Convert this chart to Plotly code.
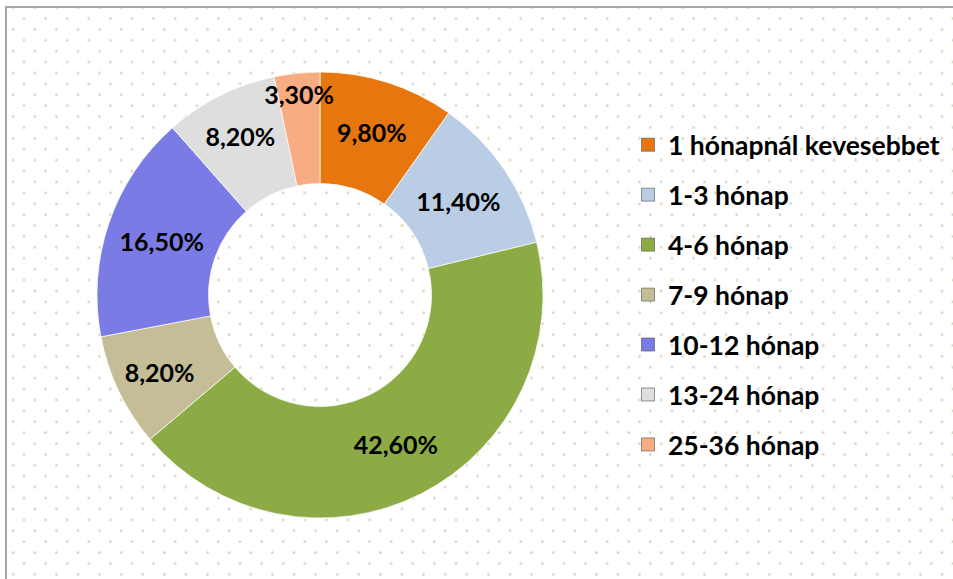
import plotly.graph_objects as go
import urllib.parse

# ---- data ----
categories = ["1 hónapnál kevesebbet", "1-3 hónap", "4-6 hónap", "7-9 hónap",
              "10-12 hónap", "13-24 hónap", "25-36 hónap"]
values = [9.8, 11.4, 42.6, 8.2, 16.5, 8.2, 3.3]
colors = ["#E8760E", "#B9CDE5", "#8CAB44", "#C4BD97", "#7B7BE6", "#DEDEDE", "#F7AC82"]

W, H = 953, 579
FONT = "Lato"

fig = go.Figure()

# legend entries (dummy markers, one group each so spacing can be set)
for cat, col in zip(categories, colors):
    fig.add_trace(go.Scatter(
        x=[None], y=[None], mode="markers", name=cat, legendgroup=cat,
        marker=dict(symbol="square", size=13, color=col,
                    line=dict(color="rgba(80,80,80,0.6)", width=1)),
        hoverinfo="skip", showlegend=True))

fig.add_trace(go.Pie(
    labels=categories, values=values, sort=False, direction="clockwise",
    rotation=0, hole=0.5,
    marker=dict(colors=colors, line=dict(color="rgba(255,255,255,0.7)", width=1)),
    texttemplate="%{value:.2f}%", textposition="inside",
    insidetextorientation="horizontal",
    textfont=dict(family=FONT, size=25, color="black", weight="bold"),
    domain=dict(x=[97 / W, 543 / W], y=[61 / H, 507 / H]),
    showlegend=False, hoverinfo="label+percent"))

# dotted background + frame (left/top edges visible) as an SVG image
svg = f'''<svg xmlns="http://www.w3.org/2000/svg" width="{W}" height="{H}" viewBox="0 0 {W} {H}">
<defs><pattern id="p" patternUnits="userSpaceOnUse" x="0" y="0" width="21.6" height="21.8">
<circle cx="2.4" cy="18.5" r="1.3" fill="#D9D3BA"/>
<circle cx="13.2" cy="7.6" r="1.3" fill="#D9D3BA"/>
</pattern></defs>
<rect x="7" y="8" width="{W}" height="{H}" fill="url(#p)"/>
<path d="M6,{H + 5} L6,7 L{W + 5},7" fill="none" stroke="#A6A6A6" stroke-width="2"/>
</svg>'''
src = "data:image/svg+xml;charset=utf-8," + urllib.parse.quote(svg)

fig.update_layout(
    width=W, height=H, margin=dict(l=0, r=0, t=0, b=0),
    paper_bgcolor="white", plot_bgcolor="rgba(0,0,0,0)",
    separators=",.",
    xaxis=dict(visible=False, range=[0, 1]),
    yaxis=dict(visible=False, range=[0, 1]),
    uniformtext=dict(minsize=25, mode="show"),
    images=[dict(source=src, xref="paper", yref="paper", x=0, y=1,
                 sizex=1, sizey=1, sizing="stretch", layer="below",
                 xanchor="left", yanchor="top")],
    legend=dict(x=628 / W, xanchor="left", y=1 - 121 / H, yanchor="top",
                font=dict(family=FONT, size=26.5, color="black", weight="bold"),
                tracegroupgap=12.5, bgcolor="rgba(0,0,0,0)", itemclick=False),
    showlegend=True,
)

fig.write_html("out.html", config={"displayModeBar": False},
               post_script="document.body.style.margin='0';document.body.style.overflow='hidden';")
